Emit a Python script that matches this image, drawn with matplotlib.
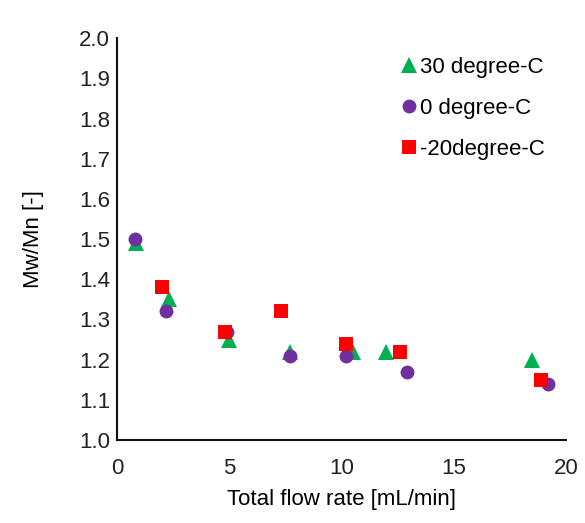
import matplotlib.pyplot as plt

plt.rcParams['font.family'] = ['Liberation Sans', 'DejaVu Sans']

# Mw/Mn vs total flow rate
x_30 = [0.85, 2.3, 5.0, 7.7, 10.5, 12.0, 18.5]
y_30 = [1.49, 1.35, 1.25, 1.22, 1.22, 1.22, 1.20]

x_0 = [0.8, 2.2, 4.9, 7.7, 10.2, 12.9, 19.2]
y_0 = [1.50, 1.32, 1.27, 1.21, 1.21, 1.17, 1.14]

x_m20 = [2.0, 4.8, 7.3, 10.2, 12.6, 18.9]
y_m20 = [1.38, 1.27, 1.32, 1.24, 1.22, 1.15]

fig = plt.figure(figsize=(5.85, 5.23), dpi=100)
ax = fig.add_axes([0.2, 0.1587, 0.7675, 0.7683])

ax.plot(x_30, y_30, '^', color='#00B050', ms=11, mew=0, label='30 degree-C')
ax.plot(x_0, y_0, 'o', color='#7030A0', ms=10, mew=0, label='0 degree-C')
ax.plot(x_m20, y_m20, 's', color='#FF0000', ms=9.5, mew=0, label='-20degree-C')

ax.set_xlim(0, 20)
ax.set_ylim(1.0, 2.0)
ax.set_xticks([0, 5, 10, 15, 20])
ax.set_yticks([1.0 + 0.1 * i for i in range(11)])
ax.set_yticklabels([f'{1.0 + 0.1 * i:.1f}' for i in range(11)])
ax.tick_params(length=0, labelsize=16, colors='#222222')
ax.tick_params(axis='y', pad=5)
ax.tick_params(axis='x', pad=13)

for s in ['top', 'right']:
    ax.spines[s].set_visible(False)
for s in ['left', 'bottom']:
    ax.spines[s].set_linewidth(1.5)
    ax.spines[s].set_color('#111111')

ax.set_xlabel('Total flow rate [mL/min]', fontsize=16, labelpad=7)
ax.set_ylabel('Mw/Mn [-]', fontsize=16, labelpad=25)

ax.legend(loc='upper right', frameon=False, fontsize=16, handletextpad=-0.5,
          labelspacing=0.9, borderaxespad=0.0, bbox_to_anchor=(0.973, 0.975))

fig.savefig('out.png', dpi=100)
